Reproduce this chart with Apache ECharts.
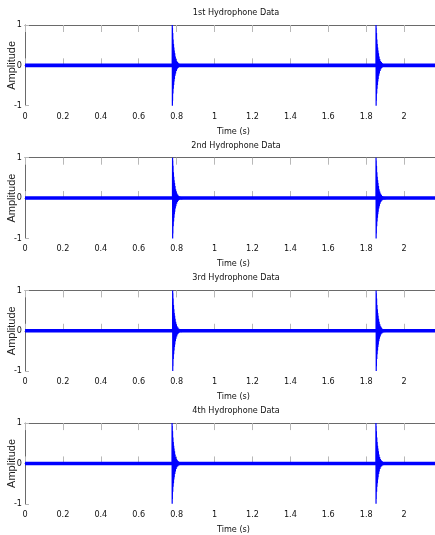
<!DOCTYPE html>
<html>
<head>
<meta charset="utf-8">
<script src="https://cdn.jsdelivr.net/npm/echarts@6/dist/echarts.min.js"></script>
<style>
html,body{margin:0;padding:0;background:#fff;}
#chart{width:435px;height:535px;}
</style>
</head>
<body>
<div id="chart"></div>
<script>
// ---- data ----
var panelTitles = ['1st Hydrophone Data', '2nd Hydrophone Data', '3rd Hydrophone Data', '4th Hydrophone Data'];
var xAxisName = 'Time (s)';
var yAxisName = 'Amplitude';
var xMin = 0, xMax = 2.2, xStep = 0.2;
var yMin = -1, yMax = 1, yStep = 1;

// arrival (onset) times of the two pulses, per hydrophone (s)
var onset1 = [0.7765, 0.7780, 0.7785, 0.7755];
var onset2 = [1.8515, 1.8515, 1.8520, 1.8510];

// samples of a pulse: time after onset (s) and amplitude
var pulseDt = [0.0000, 0.0005, 0.0010, 0.0015, 0.0020, 0.0030, 0.0040, 0.0050, 0.0060, 0.0070,
               0.0080, 0.0090, 0.0100, 0.0110, 0.0120, 0.0135, 0.0150, 0.0165, 0.0180, 0.0200,
               0.0220, 0.0240, 0.0260, 0.0285, 0.0310, 0.0340, 0.0370, 0.0410, 0.0450, 0.0500,
               0.0560, 0.0620];
var pulseAmp = [0.00, 1.00, -1.00, 0.93, -0.88, 0.80, -0.70, 0.64, -0.58, 0.53,
                -0.49, 0.44, -0.40, 0.37, -0.34, 0.30, -0.26, 0.22, -0.20, 0.16,
                -0.14, 0.11, -0.095, 0.08, -0.065, 0.05, -0.04, 0.03, -0.022, 0.015,
                -0.01, 0.00];
// quiet baseline (noise floor) between pulses
var baselineT = [0, 2.2];
var baselineA = [0, 0];

(function () {
  // ---- layout ----
  var gridLeft = 25, gridW = 417;
  var gridTop0 = 25, panelStep = 132.7, gridH = 80.7;
  var font = '"Liberation Sans Narrow", "DejaVu Sans Condensed", "Arial Narrow", "Liberation Sans", Arial, sans-serif';
  var blue = '#0000ff';

  function buildPulse(t0) {
    var pts = [];
    for (var i = 0; i < pulseDt.length; i++) pts.push([t0 + pulseDt[i], pulseAmp[i]]);
    return pts;
  }

  var grids = [], xAxes = [], yAxes = [], series = [], titles = [];
  for (var k = 0; k < 4; k++) {
    var gTop = gridTop0 + k * panelStep;
    grids.push({left: gridLeft, width: gridW, top: gTop, height: gridH,
                containLabel: false, outerBoundsMode: 'none'});
    titles.push({
      text: panelTitles[k], left: 231, top: gTop - 22, textAlign: 'center',
      textStyle: {fontFamily: font, fontSize: 9, fontWeight: 'normal', color: '#111'}
    });
    xAxes.push({
      type: 'value', gridIndex: k, min: xMin, max: xMax, interval: xStep, position: 'bottom',
      name: xAxisName, nameLocation: 'middle', nameGap: 21, nameMoveOverlap: false,
      nameTextStyle: {fontFamily: font, fontSize: 9, color: '#111'},
      axisLine: {show: true, lineStyle: {color: '#6a6a6a', width: 1}},
      axisTick: {show: true, inside: true, length: 7, lineStyle: {color: '#b8b8b8'}},
      axisLabel: {fontFamily: font, fontSize: 9, color: '#111', margin: 6, showMaxLabel: false},
      splitLine: {show: false}
    });
    xAxes.push({
      type: 'value', gridIndex: k, min: xMin, max: xMax, interval: xStep, position: 'top',
      axisLine: {show: true, lineStyle: {color: '#6a6a6a', width: 1}},
      axisTick: {show: true, inside: true, length: 7, lineStyle: {color: '#b8b8b8'}},
      axisLabel: {show: false}, splitLine: {show: false}
    });
    yAxes.push({
      type: 'value', gridIndex: k, min: yMin, max: yMax, interval: yStep,
      name: yAxisName, nameLocation: 'middle', nameGap: 8, nameMoveOverlap: false,
      nameTextStyle: {fontFamily: '"Liberation Sans", Arial, sans-serif', fontSize: 11, color: '#222'},
      axisLine: {show: true, lineStyle: {color: '#6a6a6a', width: 1}},
      axisTick: {show: true, inside: true, length: 4, lineStyle: {color: '#b8b8b8'}},
      axisLabel: {fontFamily: font, fontSize: 9, color: '#111', margin: 3},
      splitLine: {show: false}
    });
    series.push({
      type: 'line', xAxisIndex: 2 * k, yAxisIndex: k, showSymbol: false, silent: true,
      data: baselineT.map(function (t, i) { return [t, baselineA[i]]; }),
      lineStyle: {color: blue, width: 3.6}, z: 2
    });
    series.push({
      type: 'line', xAxisIndex: 2 * k, yAxisIndex: k, showSymbol: false, silent: true,
      data: buildPulse(onset1[k]), lineStyle: {color: blue, width: 1.2}, z: 3
    });
    series.push({
      type: 'line', xAxisIndex: 2 * k, yAxisIndex: k, showSymbol: false, silent: true,
      data: buildPulse(onset2[k]), lineStyle: {color: blue, width: 1.2}, z: 3
    });
  }

  var chart = echarts.init(document.getElementById('chart'));
  chart.setOption({
    backgroundColor: '#ffffff',
    animation: false,
    title: titles,
    grid: grids,
    xAxis: xAxes,
    yAxis: yAxes,
    series: series
  });
})();
</script>
</body>
</html>
